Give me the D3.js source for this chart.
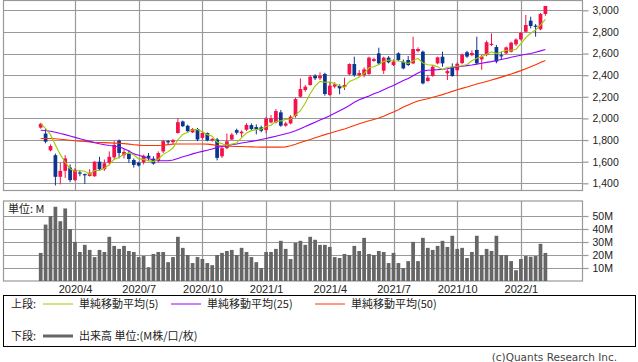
<!DOCTYPE html>
<html>
<head>
<meta charset="utf-8">
<script src="https://cdn.jsdelivr.net/npm/d3@7"></script>
<style>
  body { margin: 0; background: #fff; }
  svg { display: block; font-family: "DejaVu Sans", sans-serif; }
</style>
</head>
<body>
<div id="chart"></div>
<script>
// weekly bars, Feb 2020 - Feb 2022
const weeks = d3.timeMonday.range(new Date(2020, 1, 17), new Date(2022, 1, 8));

const open = [1915,1860,1705,1660,1460,1515,1545,1430,1500,1485,
  1468,1465,1600,1530,1590,1640,1795,1660,1680,1615,
  1590,1595,1655,1628,1605,1695,1790,1780,1865,1972,
  1932,1871,1902,1820,1865,1800,1805,1650,1725,1805,
  1892,1862,1895,1938,1920,1917,1893,1963,1963,2056,
  1933,1954,2022,2201,2263,2309,2395,2371,2411,2216,
  2294,2300,2290,2408,2503,2402,2402,2411,2531,2602,
  2442,2562,2494,2602,2525,2540,2509,2623,2617,2346,
  2392,2509,2571,2417,2478,2445,2512,2612,2585,2633,
  2546,2586,2680,2660,2585,2602,2617,2685,2731,2802,
  2904,2858,2824,2966];
const high = [1960,1905,1760,1675,1590,1660,1575,1540,1515,1490,
  1530,1605,1645,1620,1695,1790,1805,1715,1705,1630,
  1600,1665,1680,1650,1695,1800,1800,1810,2003,1980,
  1942,1912,1912,1880,1870,1820,1820,1740,1860,1865,
  1905,1890,1955,1954,1945,1933,2016,2031,2087,2078,
  1970,2031,2192,2371,2309,2401,2408,2426,2423,2340,
  2334,2315,2377,2509,2571,2448,2472,2571,2562,2654,
  2571,2577,2546,2611,2546,2577,2756,2657,2627,2401,
  2494,2571,2617,2454,2509,2520,2600,2625,2630,2756,
  2590,2720,2787,2680,2617,2665,2710,2740,2800,2957,
  2941,2873,2975,3040];
const low = [1905,1770,1695,1380,1390,1450,1410,1420,1465,1395,
  1462,1460,1520,1515,1565,1620,1630,1630,1590,1545,
  1555,1575,1605,1572,1595,1680,1757,1766,1860,1920,
  1870,1865,1790,1805,1788,1785,1612,1635,1715,1800,
  1850,1825,1885,1892,1852,1871,1862,1954,1954,1923,
  1923,1945,2007,2192,2247,2303,2355,2355,2210,2210,
  2278,2223,2263,2401,2386,2386,2380,2402,2525,2494,
  2411,2509,2485,2531,2454,2485,2503,2611,2315,2340,
  2386,2500,2478,2355,2386,2390,2500,2560,2575,2500,
  2450,2575,2670,2510,2540,2595,2610,2670,2720,2795,
  2833,2756,2815,2950];
const close = [1950,1785,1745,1460,1515,1630,1430,1525,1490,1478,
  1498,1600,1530,1585,1645,1755,1680,1690,1625,1570,
  1565,1655,1635,1582,1680,1790,1780,1798,1965,1928,
  1882,1902,1805,1865,1797,1810,1635,1725,1788,1850,
  1868,1877,1940,1902,1899,1886,2000,2000,2068,1933,
  1954,2016,2179,2272,2293,2386,2371,2395,2226,2303,
  2315,2278,2309,2503,2401,2420,2454,2562,2549,2509,
  2562,2519,2525,2540,2463,2494,2642,2642,2324,2377,
  2478,2565,2509,2438,2392,2505,2590,2572,2605,2510,
  2571,2705,2690,2525,2577,2657,2700,2730,2790,2864,
  2855,2848,2966,3040];

const ma5 = [1955,1905,1850,1755,1665,1595,1535,1512,1518,1511,
  1484,1518,1519,1538,1572,1623,1639,1671,1679,1664,
  1626,1621,1610,1601,1623,1668,1693,1726,1803,1852,
  1871,1895,1896,1876,1850,1836,1782,1766,1751,1762,
  1773,1822,1865,1887,1897,1901,1925,1937,1971,1977,
  1991,1994,2030,2071,2143,2229,2300,2343,2334,2336,
  2322,2303,2286,2342,2361,2382,2417,2468,2477,2499,
  2527,2540,2533,2531,2522,2508,2533,2556,2513,2496,
  2493,2477,2451,2473,2476,2482,2487,2499,2533,2556,
  2570,2593,2616,2600,2614,2631,2630,2638,2691,2748,
  2788,2817,2865,2915];
const ma25 = [1890,1888,1882,1872,1860,1850,1838,1825,1812,1800,
  1788,1775,1765,1757,1750,1745,1738,1720,1698,1672,
  1660,1645,1630,1615,1610,1608,1608,1615,1630,1645,
  1658,1672,1684,1695,1705,1718,1732,1740,1748,1756,
  1764,1772,1780,1788,1795,1805,1815,1825,1835,1846,
  1858,1870,1885,1905,1925,1945,1965,1985,2005,2025,
  2048,2070,2095,2120,2150,2172,2190,2208,2228,2245,
  2265,2285,2305,2328,2350,2370,2395,2420,2440,2445,
  2448,2451,2455,2460,2468,2475,2482,2488,2494,2502,
  2510,2518,2525,2535,2545,2555,2565,2575,2585,2593,
  2600,2612,2625,2638];
const ma50 = [1815,1815,1814,1812,1808,1803,1798,1793,1789,1786,
  1783,1780,1778,1776,1774,1772,1770,1767,1762,1757,
  1753,1750,1749,1749,1750,1752,1758,1762,1763,1764,
  1764,1764,1764,1763,1762,1758,1748,1745,1743,1742,
  1741,1740,1738,1737,1736,1735,1735,1735,1735,1735,
  1737,1748,1762,1778,1792,1806,1822,1836,1850,1862,
  1876,1890,1903,1918,1935,1950,1965,1978,1990,2003,
  2020,2040,2060,2080,2105,2125,2145,2162,2172,2182,
  2195,2207,2220,2235,2250,2265,2278,2290,2305,2318,
  2330,2342,2355,2368,2382,2396,2410,2426,2442,2460,
  2478,2497,2517,2535];

// volume, millions of shares
const volume = [21.6,43.4,49.9,57.1,46.0,55.8,40.0,30.1,22.3,27.8,
  23.9,18.4,23.9,22.3,34.0,27.0,24.7,27.0,23.1,22.3,
  18.4,19.2,10.6,20.8,22.3,22.3,14.5,18.4,34.0,25.5,
  20.0,13.8,18.4,16.9,13.8,12.2,20.0,21.6,23.1,23.9,
  20.0,25.5,22.3,18.4,14.5,9.9,22.3,22.3,24.7,30.9,
  24.7,16.9,29.4,30.9,27.8,34.0,31.7,27.8,27.8,26.2,
  18.4,17.7,20.8,20.0,27.0,23.1,33.2,20.8,20.0,23.1,
  22.3,13.8,21.6,13.8,9.9,15.3,30.1,15.3,33.2,25.5,
  23.9,27.0,30.9,26.2,34.8,24.7,25.5,17.7,22.3,34.8,
  20.0,24.7,23.1,34.8,20.0,20.0,15.3,8.3,16.9,19.2,
  18.7,19.2,28.6,21.6];

const priceTicks = [1400,1600,1800,2000,2200,2400,2600,2800,3000];
const volTicks = [10,20,30,40,50];

const legendRows = [
  {head: "上段:", items: [
    {label: "単純移動平均(5)", color: "#99cc00"},
    {label: "単純移動平均(25)", color: "#9400ff"},
    {label: "単純移動平均(50)", color: "#ff3300"}]},
  {head: "下段:", items: [
    {label: "出来高 単位:(M株/口/枚)", color: "#666", thick: true}]}
];

const width = 638, height = 362;
const grid = "#999";
const upColor = "#f5124a", downColor = "#0a3590";

const main = {left: 3.5, right: 582.5, top: 0.5, bottom: 190.5};
const vol = {top: 201, bottom: 281};

const svg = d3.select("#chart").append("svg")
  .attr("width", width)
  .attr("height", height)
  .attr("viewBox", [0, 0, width, height]);

const idx = d3.range(weeks.length);
const x = d3.scalePoint()
  .domain(idx)
  .range([40.7, 545.4]);
const barW = x.step() * 0.76;

const y = d3.scaleLinear()
  .domain([1400, 3000])
  .range([183.3, 10.3]);

const yv = d3.scaleLinear()
  .domain([0, 50])
  .range([vol.bottom, 216]);

// first week of each quarter month
const quarterIdx = idx.filter(i => weeks[i].getDate() <= 7 && weeks[i].getMonth() % 3 === 0);
const fmt = d3.timeFormat("%Y/%-m");

svg.append("defs").append("clipPath").attr("id", "clipMain")
  .append("rect")
  .attr("x", main.left).attr("y", main.top)
  .attr("width", main.right - main.left).attr("height", main.bottom - main.top);

const panelGrid = (top, bottom, yScale, ticks) => g => g
  .attr("stroke", grid)
  .attr("stroke-width", 1.2)
  .call(g => g.append("g")
    .selectAll("line")
    .data(quarterIdx)
    .join("line")
      .attr("x1", d => Math.round(x(d)) + 0.5)
      .attr("x2", d => Math.round(x(d)) + 0.5)
      .attr("y1", top)
      .attr("y2", bottom))
  .call(g => g.append("g")
    .selectAll("line")
    .data(ticks)
    .join("line")
      .attr("x1", main.left)
      .attr("x2", main.right)
      .attr("y1", d => Math.round(yScale(d)) + 0.5)
      .attr("y2", d => Math.round(yScale(d)) + 0.5));

svg.append("g").call(panelGrid(main.top, main.bottom, y, priceTicks));
svg.append("g").call(panelGrid(vol.top, vol.bottom, yv, volTicks));

// panel frames
[[main.top, main.bottom], [vol.top, vol.bottom]].forEach(([t, b]) => {
  svg.append("rect")
    .attr("x", main.left).attr("y", t)
    .attr("width", main.right - main.left).attr("height", b - t)
    .attr("fill", "none")
    .attr("stroke", grid)
    .attr("stroke-width", 1.2);
});

// candles
const candles = svg.append("g").attr("clip-path", "url(#clipMain)")
  .selectAll("g")
  .data(idx)
  .join("g")
    .attr("fill", i => close[i] >= open[i] ? upColor : downColor)
    .attr("stroke", i => close[i] >= open[i] ? upColor : downColor);

candles.append("line")
  .attr("x1", i => x(i))
  .attr("x2", i => x(i))
  .attr("y1", i => y(high[i]))
  .attr("y2", i => y(low[i]))
  .attr("stroke-width", 1);

candles.append("rect")
  .attr("stroke", "none")
  .attr("x", i => x(i) - barW / 2)
  .attr("width", barW)
  .attr("y", i => y(Math.max(open[i], close[i])))
  .attr("height", i => Math.max(1.2, Math.abs(y(open[i]) - y(close[i]))));

// moving averages
const line = arr => d3.line()
  .x(i => x(i))
  .y(i => y(arr[i]))(idx);

[[ma50, "#ff3300"], [ma25, "#9400ff"], [ma5, "#99cc00"]].forEach(([arr, color]) => {
  svg.append("path")
    .attr("clip-path", "url(#clipMain)")
    .attr("fill", "none")
    .attr("stroke", color)
    .attr("stroke-width", 1.1)
    .attr("d", line(arr));
});

// volume bars
svg.append("g")
  .attr("fill", "#666")
  .selectAll("rect")
  .data(idx)
  .join("rect")
    .attr("x", i => x(i) - barW / 2)
    .attr("width", barW)
    .attr("y", i => yv(volume[i]))
    .attr("height", i => yv(0) - yv(volume[i]));

// axes
const yAxis = g => g
  .attr("transform", `translate(${main.right},0)`)
  .call(d3.axisRight(y).tickValues(priceTicks).tickFormat(d3.format(",")).tickSize(6).tickPadding(4))
  .call(g => g.select(".domain").remove())
  .call(g => g.selectAll(".tick line").attr("stroke", grid).attr("stroke-width", 1.2))
  .call(g => g.selectAll(".tick text").attr("fill", "#222").attr("font-size", 10.5));

const yvAxis = g => g
  .attr("transform", `translate(${main.right},0)`)
  .call(d3.axisRight(yv).tickValues(volTicks).tickFormat(d => d + "M").tickSize(6).tickPadding(4))
  .call(g => g.select(".domain").remove())
  .call(g => g.selectAll(".tick line").attr("stroke", grid).attr("stroke-width", 1.2))
  .call(g => g.selectAll(".tick text").attr("fill", "#222").attr("font-size", 10.5));

const xAxis = g => g
  .attr("transform", `translate(0,${vol.bottom})`)
  .call(d3.axisBottom(x).tickValues(quarterIdx).tickFormat(i => fmt(weeks[i])).tickSize(0).tickPadding(4))
  .call(g => g.select(".domain").remove())
  .call(g => g.selectAll(".tick text").attr("fill", "#222").attr("font-size", 11));

svg.append("g").call(yAxis);
svg.append("g").call(yvAxis);
svg.append("g").call(xAxis);

svg.append("text")
  .attr("x", 8).attr("y", 213)
  .attr("font-family", "'Noto Sans CJK JP', sans-serif")
  .attr("font-size", 11)
  .attr("fill", "#222")
  .text("単位: M");

// legend
const legend = svg.append("g")
  .attr("font-family", "'Noto Sans CJK JP', sans-serif")
  .attr("font-size", 11)
  .attr("fill", "#222");

legend.append("rect")
  .attr("x", 3.5).attr("y", 295.5)
  .attr("width", 632).attr("height", 51)
  .attr("fill", "none")
  .attr("stroke", "#000");

const rowY = [304, 336];
const itemX = [[43, 171, 315], [43]];
legendRows.forEach((row, r) => {
  legend.append("text")
    .attr("x", 11).attr("y", rowY[r]).attr("dy", "0.35em")
    .text(row.head);
  row.items.forEach((it, k) => {
    const x0 = itemX[r][k];
    legend.append("line")
      .attr("x1", x0).attr("x2", x0 + 30)
      .attr("y1", rowY[r]).attr("y2", rowY[r])
      .attr("stroke", it.color)
      .attr("stroke-width", it.thick ? 3 : 1);
    legend.append("text")
      .attr("x", x0 + 36).attr("y", rowY[r]).attr("dy", "0.35em")
      .text(it.label);
  });
});

svg.append("text")
  .attr("x", 617).attr("y", 361)
  .attr("text-anchor", "end")
  .attr("font-family", "'DejaVu Sans', sans-serif")
  .attr("font-size", 10.5)
  .attr("fill", "#444")
  .text("(c)Quants Research Inc.");
</script>
</body>
</html>
